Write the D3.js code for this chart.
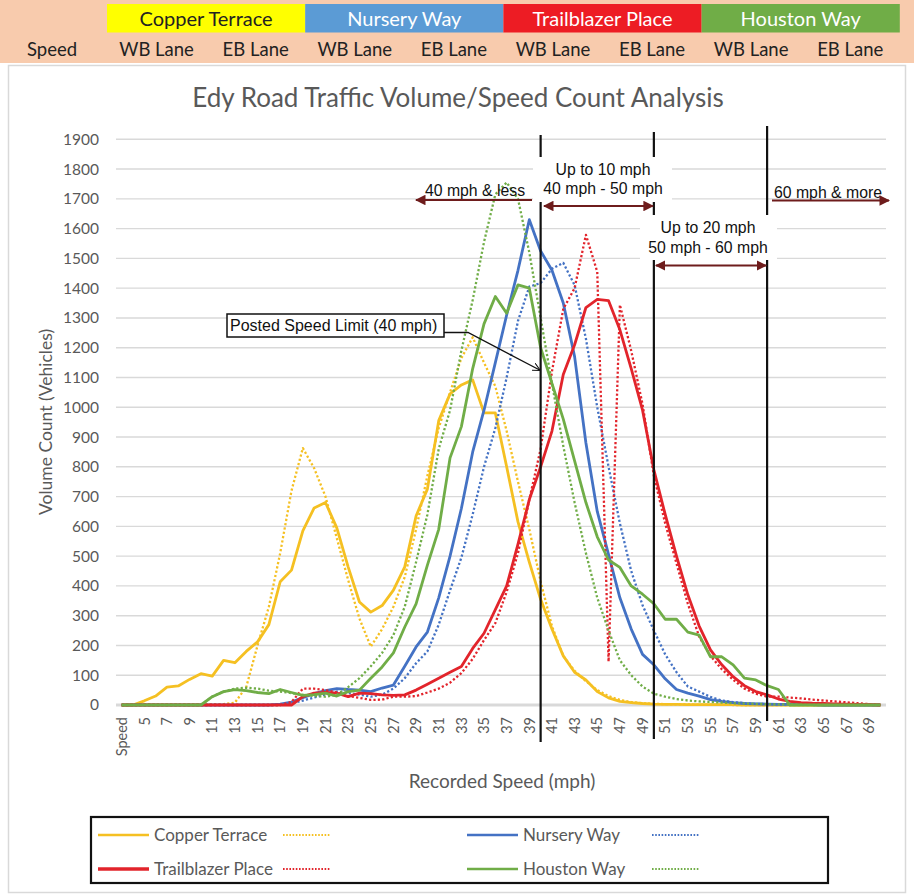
<!DOCTYPE html>
<html>
<head>
<meta charset="utf-8">
<script src="https://cdn.jsdelivr.net/npm/d3@7"></script>
<style>
body{margin:0;background:#fff;}
svg{display:block;}
</style>
</head>
<body>
<div class="chart"></div>
<script>
// categories: header cell "Speed" then 4..70 mph
var categories=['Speed',4,5,6,7,8,9,10,11,12,13,14,15,16,17,18,19,20,21,22,23,24,25,26,27,28,29,30,31,32,33,34,35,36,37,38,39,40,41,42,43,44,45,46,47,48,49,50,51,52,53,54,55,56,57,58,59,60,61,62,63,64,65,66,67,68,69,70];

//            Spd  4..13 / 14..23 / 24..33 / 34..43 / 44..53 / 54..63 / 64..70
var copperWB=[0,
  0,14,30,60,64,86,105,97,150,142,
  180,212,270,414,453,585,662,680,595,464,
  346,312,334,386,464,635,725,955,1045,1075,
  1092,981,981,800,615,480,355,255,165,110,
  84,45,24,12,8,5,3,2,2,1,
  1,1,1,1,0,0,0,0,0,0,
  0,0,0,0,0,0,0];
var copperEB=[0,
  3,3,3,3,3,3,3,3,3,8,
  60,200,330,510,720,863,795,700,560,420,
  290,196,255,330,430,590,770,930,1050,1165,
  1235,1150,1070,920,750,590,415,265,165,115,
  80,50,30,17,10,6,4,3,2,2,
  1,1,1,0,0,0,0,0,0,0,
  0,0,0,0,0,0,0];
var nurseryWB=[0,
  0,0,0,0,0,0,0,0,0,0,
  0,0,0,3,10,25,38,48,55,52,
  50,45,57,67,130,195,245,360,500,660,
  850,990,1150,1310,1460,1630,1525,1460,1350,1170,
  880,650,505,360,255,170,135,88,52,40,
  30,18,12,8,5,4,3,2,2,1,
  1,0,0,0,0,0,0];
var nurseryEB=[0,
  0,0,0,0,0,0,0,0,0,0,
  0,0,0,0,5,15,25,35,45,40,
  35,28,35,55,90,140,180,270,385,495,
  640,800,930,1100,1290,1405,1417,1465,1485,1410,
  1230,1000,800,610,450,335,250,170,110,62,
  45,27,15,10,6,4,3,2,2,1,
  1,0,0,0,0,0,0];
var trailWB=[0,
  0,0,0,0,0,0,0,0,0,0,
  0,0,0,0,0,28,40,42,40,28,
  40,38,34,32,34,50,70,90,110,129,
  190,241,320,400,540,690,800,920,1110,1210,
  1335,1362,1358,1260,1130,990,790,640,500,370,
  265,185,135,95,65,45,34,20,12,8,
  6,5,4,3,2,1,0];
var trailEB=[0,
  0,0,0,0,0,0,0,0,0,0,
  0,0,0,0,10,55,55,50,42,30,
  24,17,18,28,28,30,42,55,75,107,
  155,218,275,380,510,690,860,1120,1330,1400,
  1579,1455,146,1344,1190,1010,770,610,475,340,
  230,165,120,85,55,38,28,28,25,22,
  18,15,12,9,6,3,0];
var houstonWB=[0,
  0,0,0,0,0,0,0,28,45,52,
  48,42,38,52,42,32,35,40,30,45,
  50,90,128,175,262,340,470,590,830,935,
  1130,1280,1372,1316,1411,1400,1200,1080,960,820,
  680,565,487,462,400,372,340,288,288,245,
  235,162,162,135,90,84,65,52,0,0,
  0,0,0,0,0,0,0];
var houstonEB=[0,
  0,0,0,0,0,0,0,28,45,55,
  58,55,48,45,40,34,30,28,34,60,
  90,130,175,235,330,480,640,860,990,1190,
  1360,1555,1715,1755,1700,1520,1300,1080,870,680,
  510,360,250,150,100,62,38,28,20,15,
  12,10,8,6,5,4,3,2,2,1,
  0,0,0,0,0,0,0];

var yTicks=[0,100,200,300,400,500,600,700,800,900,1000,1100,1200,1300,1400,1500,1600,1700,1800,1900];
var roads=['Copper Terrace','Nursery Way','Trailblazer Place','Houston Way'];
var laneLabels=['WB Lane','EB Lane','WB Lane','EB Lane','WB Lane','EB Lane','WB Lane','EB Lane'];
var limitSpeeds=[40,50,60];

var roadColors=['#F5C022','#4472C4','#E2242B','#70AD47'];
var headerColors=['#FFFF00','#5B9BD5','#ED1C24','#70AD47'];
var headerText=['#222','#fff','#fff','#fff'];
var peach='#F8CBAD';
var maroon='#6E1C1C';
var gray='#595959';
var calibri='Lato, "Open Sans", sans-serif';
var arial='"Liberation Sans", Arial, sans-serif';

var series=[
  {data:copperWB,color:roadColors[0],dotted:false},
  {data:copperEB,color:roadColors[0],dotted:true},
  {data:nurseryWB,color:roadColors[1],dotted:false},
  {data:nurseryEB,color:roadColors[1],dotted:true},
  {data:trailWB,color:roadColors[2],dotted:false},
  {data:trailEB,color:roadColors[2],dotted:true},
  {data:houstonWB,color:roadColors[3],dotted:false},
  {data:houstonEB,color:roadColors[3],dotted:true}
];

var svg=d3.select('.chart').append('svg').attr('width',914).attr('height',896);

// ---- header table ----
svg.append('rect').attr('x',0).attr('y',0).attr('width',914).attr('height',63).attr('fill',peach);

var cellW=99.1, cellX0=107;
svg.selectAll('.roadcell').data(roads).enter()
  .append('rect')
  .attr('x',function(d,i){return cellX0+i*cellW*2})
  .attr('y',4).attr('width',cellW*2).attr('height',28.5)
  .attr('fill',function(d,i){return headerColors[i]});

svg.selectAll('.roadtext').data(roads).enter()
  .append('text')
  .text(function(d){return d})
  .attr('x',function(d,i){return cellX0+(i+0.5)*cellW*2})
  .attr('y',25.5)
  .attr('text-anchor','middle')
  .attr('fill',function(d,i){return headerText[i]})
  .style('font-family',calibri).style('font-size','20px');

svg.append('text').text('Speed')
  .attr('x',52).attr('y',55.5).attr('text-anchor','middle')
  .attr('fill','#222').style('font-family',calibri).style('font-size','18.5px');

svg.selectAll('.lanetext').data(laneLabels).enter()
  .append('text')
  .text(function(d){return d})
  .attr('x',function(d,i){return cellX0+(i+0.5)*cellW})
  .attr('y',55.5)
  .attr('text-anchor','middle')
  .attr('fill','#222')
  .style('font-family',calibri).style('font-size','18.5px');

// ---- chart frame ----
svg.append('rect').attr('x',8.5).attr('y',65.5).attr('width',897).attr('height',827)
  .attr('fill','#fff').attr('stroke','#D9D9D9').attr('stroke-width',1.5);

svg.append('text').text('Edy Road Traffic Volume/Speed Count Analysis')
  .attr('x',458).attr('y',107).attr('text-anchor','middle')
  .attr('fill',gray).style('font-family',calibri).style('font-size','26px');

// ---- scales ----
var plotLeft=116, plotRight=886;
var xband=d3.scaleBand().domain(categories).range([plotLeft,plotRight]).padding(0);
var bw=xband.bandwidth();
function xc(c){return xband(c)+bw/2}
var y=d3.scaleLinear().domain([0,1900]).range([705,139.3]);

// gridlines
svg.append('g').selectAll('line').data(yTicks.slice(1)).enter()
  .append('line')
  .attr('x1',plotLeft).attr('x2',plotRight)
  .attr('y1',function(d){return y(d)}).attr('y2',function(d){return y(d)})
  .attr('stroke','#D9D9D9').attr('stroke-width',1.4);

svg.append('line').attr('x1',plotLeft).attr('x2',plotRight)
  .attr('y1',y(0)).attr('y2',y(0))
  .attr('stroke','#D9D9D9').attr('stroke-width',3);

// y axis labels
var yaxis=svg.append('g').attr('transform','translate('+plotLeft+',0)')
  .call(d3.axisLeft(y).tickValues(yTicks).tickSize(0).tickPadding(17).tickFormat(d3.format('d')));
yaxis.select('.domain').remove();
yaxis.selectAll('text').attr('fill',gray).style('font-family',calibri).style('font-size','15.5px');

// x axis labels, every second category
var xaxis=svg.append('g').attr('transform','translate(0,'+y(0)+')')
  .call(d3.axisBottom(xband).tickValues(categories.filter(function(d,i){return i%2==0})).tickSize(0));
xaxis.select('.domain').remove();
xaxis.selectAll('text')
  .attr('transform','rotate(-90)')
  .attr('x',-12).attr('y',0).attr('dy','0.36em')
  .style('text-anchor','end')
  .attr('fill',gray).style('font-family',calibri).style('font-size','14.5px');

// axis titles
svg.append('text').text('Volume Count (Vehicles)')
  .attr('transform','translate(52,422) rotate(-90)')
  .attr('text-anchor','middle').attr('fill',gray)
  .style('font-family',calibri).style('font-size','17.5px');

svg.append('text').text('Recorded Speed (mph)')
  .attr('x',502).attr('y',788).attr('text-anchor','middle').attr('fill',gray)
  .style('font-family',calibri).style('font-size','19px');

// ---- series ----
var line=d3.line()
  .x(function(d,i){return xc(categories[i])})
  .y(function(d){return y(d)});

svg.append('g').selectAll('path').data(series).enter()
  .append('path')
  .attr('d',function(d){return line(d.data)})
  .attr('fill','none')
  .attr('stroke',function(d){return d.color})
  .attr('stroke-width',function(d){return d.dotted?2.3:2.8})
  .attr('stroke-dasharray',function(d){return d.dotted?'2.2,2.2':null})
  .attr('stroke-linejoin','round');

// ---- speed limit lines ----
var vlineTop=[135,132,126];
var vlineBottom=[742,739,721];
svg.append('g').selectAll('line').data(limitSpeeds).enter()
  .append('line')
  .attr('x1',function(d){return xc(d)}).attr('x2',function(d){return xc(d)})
  .attr('y1',function(d,i){return vlineTop[i]}).attr('y2',function(d,i){return vlineBottom[i]})
  .attr('stroke','#111').attr('stroke-width',2.2);

// white text boxes on top of the lines
svg.append('rect').attr('x',533).attr('y',157).attr('width',139).attr('height',45).attr('fill','#fff');
svg.append('rect').attr('x',640).attr('y',215).attr('width',137).attr('height',45).attr('fill','#fff');

function label(t,x,yy){
  svg.append('text').text(t).attr('x',x).attr('y',yy).attr('text-anchor','middle')
    .attr('fill','#111').style('font-family',arial).style('font-size','15.8px');
}
label('Up to 10 mph',603,175);
label('40 mph - 50 mph',603,194);
label('Up to 20 mph',708,233);
label('50 mph - 60 mph',708,253);
label('40 mph & less',475,196);
label('60 mph & more',828,198);

// arrows
var defs=svg.append('defs');
defs.append('marker').attr('id','head').attr('viewBox','0 0 10 10')
  .attr('refX',9).attr('refY',5).attr('markerWidth',4.8).attr('markerHeight',4.8)
  .attr('markerUnits','strokeWidth').attr('orient','auto-start-reverse')
  .append('path').attr('d','M0,0L10,5L0,10Z').attr('fill',maroon);
defs.append('marker').attr('id','openhead').attr('viewBox','0 0 10 10')
  .attr('refX',9).attr('refY',5).attr('markerWidth',8).attr('markerHeight',8)
  .attr('markerUnits','userSpaceOnUse').attr('orient','auto')
  .append('path').attr('d','M0,0L10,5L0,10').attr('fill','none').attr('stroke','#111').attr('stroke-width',1.3);

function arrow(x1,x2,yy,both){
  var l=svg.append('line').attr('x1',x1).attr('x2',x2).attr('y1',yy).attr('y2',yy)
    .attr('stroke',maroon).attr('stroke-width',2.2).attr('marker-end','url(#head)');
  if(both) l.attr('marker-start','url(#head)');
}
arrow(532,416,200,false);
arrow(544,xc(50)-1,206,true);
arrow(xc(50)+2,xc(60)-1,265.5,true);
arrow(772,889,200.5,false);

// posted speed limit callout
svg.append('path')
  .attr('d','M444,332.5L468,332.5L'+(xc(40)-1)+','+y(1125))
  .attr('fill','none').attr('stroke','#111').attr('stroke-width',1.3)
  .attr('marker-end','url(#openhead)');
svg.append('rect').attr('x',227).attr('y',314).attr('width',217).attr('height',23)
  .attr('fill','#fff').attr('stroke','#111').attr('stroke-width',1.5);
svg.append('text').text('Posted Speed Limit (40 mph)')
  .attr('x',230).attr('y',331).attr('fill','#111')
  .style('font-family',arial).style('font-size','16px');

// ---- legend ----
var lg=svg.append('g');
lg.append('rect').attr('x',91).attr('y',817).attr('width',737).attr('height',66)
  .attr('fill','#fff').attr('stroke','#111').attr('stroke-width',2.2);

var legendItems=[
  {name:roads[0],color:roadColors[0],x:98,y:835},
  {name:roads[1],color:roadColors[1],x:467,y:835},
  {name:roads[2],color:roadColors[2],x:98,y:869},
  {name:roads[3],color:roadColors[3],x:467,y:869}
];
legendItems.forEach(function(d){
  lg.append('line').attr('x1',d.x).attr('x2',d.x+51).attr('y1',d.y).attr('y2',d.y)
    .attr('stroke',d.color).attr('stroke-width',d.name==roads[2]?3.5:2.6);
  lg.append('text').text(d.name).attr('x',d.x+56).attr('y',d.y+5.5)
    .attr('fill',gray).style('font-family',calibri).style('font-size','17px');
  lg.append('line').attr('x1',d.x+185).attr('x2',d.x+233).attr('y1',d.y).attr('y2',d.y)
    .attr('stroke',d.color).attr('stroke-width',2).attr('stroke-dasharray','1.6,1.6');
});
</script>
</body>
</html>
